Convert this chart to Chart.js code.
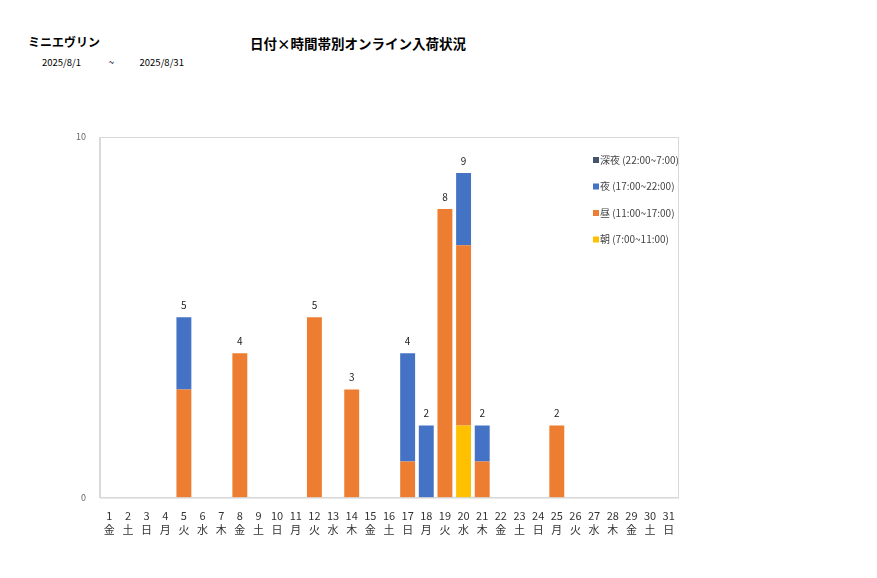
<!DOCTYPE html>
<html><head><meta charset="utf-8">
<script src="https://cdn.jsdelivr.net/npm/chart.js@4"></script>
<style>
body{margin:0;background:#fff;font-family:"Noto Sans CJK JP",sans-serif;}
#wrap{position:relative;width:877px;height:578px;}
#title{position:absolute;left:250px;top:33px;font-size:13.5px;font-weight:bold;}
#brand{position:absolute;left:28px;top:33px;font-size:12px;font-weight:bold;}
#range{position:absolute;left:42px;top:55px;font-size:9.5px;}
canvas{position:absolute;left:0;top:0;}
</style></head><body>
<div id="wrap">
<div id="brand">ミニエヴリン</div>
<div id="title">日付×時間帯別オンライン入荷状況</div>
<div id="range">2025/8/1&nbsp;&nbsp;&nbsp;&nbsp;&nbsp;&nbsp;&nbsp;&nbsp;&nbsp;&nbsp;&nbsp;&nbsp;&nbsp;~&nbsp;&nbsp;&nbsp;&nbsp;&nbsp;&nbsp;&nbsp;&nbsp;&nbsp;&nbsp;&nbsp;&nbsp;2025/8/31</div>
<canvas id="c" width="877" height="578"></canvas>
</div>
<script>
const days = Array.from({length:31},(_,i)=>String(i+1));
const weekdays = ["金","土","日","月","火","水","木","金","土","日","月","火","水","木","金","土","日","月","火","水","木","金","土","日","月","火","水","木","金","土","日"];
const morning = [0,0,0,0,0,0,0,0,0,0,0,0,0,0,0,0,0,0,0,2,0,0,0,0,0,0,0,0,0,0,0];
const daytime = [0,0,0,0,3,0,0,4,0,0,0,5,0,3,0,0,1,0,8,5,1,0,0,0,2,0,0,0,0,0,0];
const evening = [0,0,0,0,2,0,0,0,0,0,0,0,0,0,0,0,3,2,0,2,1,0,0,0,0,0,0,0,0,0,0];
const night   = new Array(31).fill(0);
const seriesNames = ["朝 (7:00~11:00)","昼 (11:00~17:00)","夜 (17:00~22:00)","深夜 (22:00~7:00)"];
const colors = ["#FFC000","#ED7D31","#4472C4","#44546A"];

const font = '"Noto Sans CJK JP", sans-serif';
const extras = {
  id:"extras",
  afterDatasetsDraw(chart){
    const {ctx, scales:{x,y}} = chart;
    ctx.save();
    ctx.font = "10px "+font; ctx.fillStyle="#222"; ctx.textAlign="center";
    days.forEach((d,i)=>{
      const t = morning[i]+daytime[i]+evening[i]+night[i];
      if(t>0) ctx.fillText(t, x.getPixelForValue(i), y.getPixelForValue(t)-8);
    });
    ctx.textAlign="left"; ctx.textBaseline="middle";
    for(let k=3;k>=0;k--){
      const yy = 160 + (3-k)*26.5;
      ctx.fillStyle = colors[k]; ctx.fillRect(593, yy-3, 6, 6);
      ctx.fillStyle = "#444"; ctx.fillText(seriesNames[k], 600, yy);
    }
    ctx.restore();
  }
};

new Chart(document.getElementById("c"), {
  type:"bar",
  data:{
    labels: days.map((d,i)=>[d, weekdays[i]]),
    datasets: [morning,daytime,evening,night].map((v,k)=>({
      label: seriesNames[k], data: v, backgroundColor: colors[k],
      barPercentage: 0.8, categoryPercentage: 1.0
    }))
  },
  options:{
    responsive:false, animation:false,
    layout:{padding:{left:70,right:199,top:137,bottom:38}},
    plugins:{legend:{display:false},tooltip:{enabled:false}},
    scales:{
      x:{stacked:true, grid:{display:false}, border:{color:"#d9d9d9"},
         ticks:{color:"#333",font:{family:font,size:11},maxRotation:0,autoSkip:false,padding:4}},
      y:{stacked:true, min:0, max:10,
         afterBuildTicks(ax){ax.ticks=[{value:0},{value:10}];},
         grid:{display:false}, border:{color:"#d9d9d9"},
         ticks:{color:"#666",font:{family:font,size:9},padding:6}}
    }
  },
  plugins:[extras,{
    id:"box",
    afterDraw(chart){
      const {ctx,chartArea:a}=chart;
      ctx.save(); ctx.strokeStyle="#d9d9d9"; ctx.lineWidth=1;
      ctx.strokeRect(a.left+0.5,a.top+0.5,a.width,a.height); ctx.restore();
    }
  }]
});
</script>
</body></html>
